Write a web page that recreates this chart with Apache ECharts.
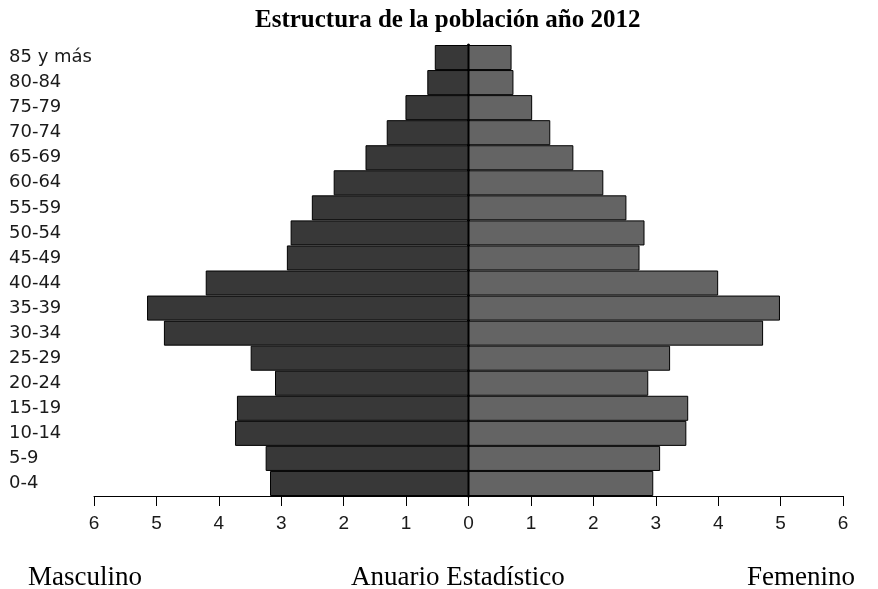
<!DOCTYPE html>
<html>
<head>
<meta charset="utf-8">
<script src="https://cdn.jsdelivr.net/npm/echarts@6/dist/echarts.min.js"></script>
<style>
  html, body { margin: 0; padding: 0; background: #fff; }
  #chart { width: 878px; height: 589px; }
</style>
</head>
<body>
<div id="chart"></div>
<script>
// grupos de edad, de abajo hacia arriba
const ageGroups = ['0-4', '5-9', '10-14', '15-19', '20-24', '25-29', '30-34', '35-39', '40-44',
  '45-49', '50-54', '55-59', '60-64', '65-69', '70-74', '75-79', '80-84', '85 y más'];
// porcentajes
const masculino = [3.18, 3.25, 3.74, 3.71, 3.10, 3.49, 4.88, 5.15, 4.21,
  2.91, 2.85, 2.51, 2.16, 1.65, 1.31, 1.01, 0.66, 0.54];
const femenino = [2.96, 3.07, 3.49, 3.52, 2.88, 3.23, 4.72, 4.99, 4.00,
  2.74, 2.82, 2.53, 2.16, 1.68, 1.31, 1.02, 0.72, 0.69];
const xTicks = [-6, 6, 1];

const chart = echarts.init(document.getElementById('chart'));
const serif = '"Liberation Serif", "DejaVu Serif", serif';
const sans = '"Liberation Sans", Arial, sans-serif';

chart.setOption({
  animation: false,
  backgroundColor: '#fff',
  title: [
    { text: 'Estructura de la población año 2012', left: 250, top: 3,
      textStyle: { fontFamily: serif, fontSize: 25, fontWeight: 'bold', color: '#000' } },
    { text: 'Masculino', left: 23, top: 559,
      textStyle: { fontFamily: serif, fontSize: 27, fontWeight: 'normal', color: '#000' } },
    { text: 'Anuario Estadístico', left: 346, top: 559,
      textStyle: { fontFamily: serif, fontSize: 27, fontWeight: 'normal', color: '#000' } },
    { text: 'Femenino', right: 18, top: 559,
      textStyle: { fontFamily: serif, fontSize: 27, fontWeight: 'normal', color: '#000' } },
  ],
  grid: { left: 94, right: 35, top: 45, bottom: 93 },
  xAxis: {
    type: 'value', min: xTicks[0], max: xTicks[1], interval: xTicks[2],
    axisLine: { show: true, lineStyle: { color: '#000', width: 1 } },
    axisTick: { show: true, length: 10, lineStyle: { color: '#000' } },
    axisLabel: { margin: 18, fontFamily: sans, fontSize: 19, color: '#1a1a1a',
      formatter: v => Math.abs(v) },
    splitLine: { show: false },
  },
  yAxis: {
    type: 'category', data: ageGroups,
    axisLine: { show: true, onZero: true, lineStyle: { color: '#000', width: 3 } },
    axisTick: { show: false },
    // etiquetas de edad alineadas a la izquierda del gráfico
    axisLabel: { show: true, align: 'left', margin: 85,
      fontFamily: '"DejaVu Sans", sans-serif', fontSize: 18, color: '#1a1a1a' },
  },
  series: [
    {
      name: 'Masculino', type: 'bar', barGap: '-100%', barCategoryGap: 0,
      data: masculino.map(v => -v),
      itemStyle: { color: '#383838', borderColor: '#000', borderWidth: 1 },
    },
    {
      name: 'Femenino', type: 'bar', barGap: '-100%', barCategoryGap: 0,
      data: femenino,
      itemStyle: { color: '#646464', borderColor: '#000', borderWidth: 1 },
    },
  ],
});
</script>
</body>
</html>
